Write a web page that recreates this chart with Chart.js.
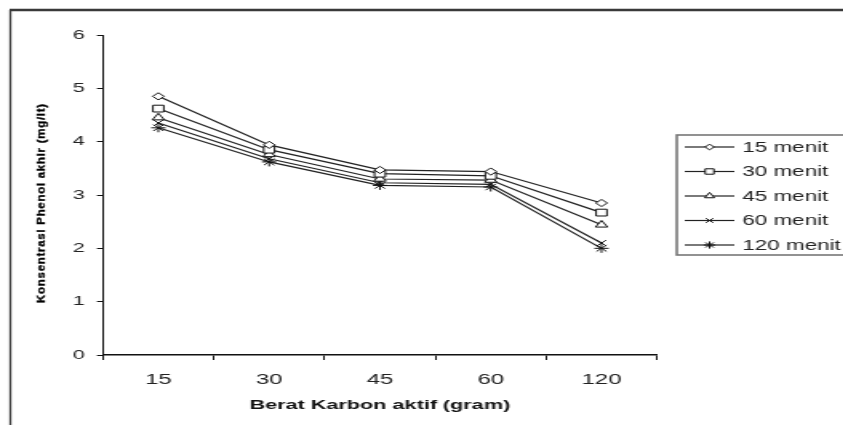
<!DOCTYPE html>
<html>
<head>
<meta charset="utf-8">
<script src="https://cdn.jsdelivr.net/npm/chart.js@4/dist/chart.umd.min.js"></script>
<style>
  html, body { margin: 0; padding: 0; background: #fff; overflow: hidden; }
  /* the source figure is stretched sideways, so draw narrow and widen it */
  #wrap { transform: scaleX(1.6); transform-origin: 0 0; width: 527px; height: 425px; }
  canvas { display: block; }
</style>
</head>
<body>
<div id="wrap"><canvas id="phenolChart" width="527" height="425"></canvas></div>
<script>
// data
const beratKarbon = ["15", "30", "45", "60", "120"];
const seriesNames = ["15 menit", "30 menit", "45 menit", "60 menit", "120 menit"];
const menit15 = [4.85, 3.94, 3.47, 3.44, 2.85];
const menit30 = [4.62, 3.85, 3.40, 3.36, 2.67];
const menit45 = [4.45, 3.76, 3.30, 3.28, 2.44];
const menit60 = [4.35, 3.68, 3.23, 3.20, 2.10];
const menit120 = [4.26, 3.62, 3.18, 3.15, 2.00];
const yTicks = [0, 1, 2, 3, 4, 5, 6];
const yTitle = "Konsentrasi Phenol akhir (mg/lt)";

const STRETCH = 1.6;
const FONT = "'Liberation Sans', Arial, sans-serif";

const markers = ["rectRot", "rect", "triangle", "crossRot", "star"];
const markerSize = [3.6, 4.8, 4.4, 4, 4.5];
const allSeries = [menit15, menit30, menit45, menit60, menit120];

const datasets = allSeries.map((values, i) => ({
  label: seriesNames[i],
  data: values,
  borderColor: "#222",
  borderWidth: 1.2,
  pointStyle: markers[i],
  pointRadius: markerSize[i],
  pointHoverRadius: markerSize[i],
  pointBorderColor: "#111",
  pointBorderWidth: 1,
  pointBackgroundColor: "#fff",
  fill: false,
  tension: 0,
}));

// outer frame (top + left edge of the pasted figure)
const framePlugin = {
  id: "frame",
  beforeDraw(chart) {
    const { ctx } = chart;
    ctx.save();
    ctx.strokeStyle = "#3a3a3a";
    ctx.lineWidth = 2.5;
    ctx.beginPath();
    ctx.moveTo(6, 10);
    ctx.lineTo(530, 10);
    ctx.stroke();
    ctx.lineWidth = 1.3;
    ctx.beginPath();
    ctx.moveTo(6.5, 10);
    ctx.lineTo(6.5, 425);
    ctx.stroke();
    ctx.restore();
  },
};

// y title drawn un-stretched so it stays a narrow, heavy column like the source
const yTitlePlugin = {
  id: "yTitle",
  afterDraw(chart) {
    const { ctx, chartArea } = chart;
    ctx.save();
    ctx.translate(42 / STRETCH, (chartArea.top + chartArea.bottom) / 2 + 8);
    ctx.scale(1 / STRETCH, 1);
    ctx.rotate(-Math.PI / 2);
    ctx.scale(0.95, 1);
    ctx.font = "bold 12px " + FONT;
    ctx.letterSpacing = "0.8px";
    ctx.fillStyle = "#000";
    ctx.strokeStyle = "#000";
    ctx.lineWidth = 0.4;
    ctx.textAlign = "center";
    ctx.textBaseline = "middle";
    ctx.fillText(yTitle, 0, 0);
    ctx.strokeText(yTitle, 0, 0);
    ctx.restore();
  },
};

// boxed legend with line + marker samples
const legendPlugin = {
  id: "boxLegend",
  afterDraw(chart) {
    const { ctx } = chart;
    ctx.save();
    ctx.strokeStyle = "#777";
    ctx.lineWidth = 1.6;
    ctx.strokeRect(423, 135, 120, 120);
    ctx.font = "14px " + FONT;
    ctx.textBaseline = "middle";
    ctx.textAlign = "left";
    chart.data.datasets.forEach((ds, i) => {
      const y = 147 + i * 24.5;
      ctx.strokeStyle = "#222";
      ctx.lineWidth = 1.2;
      ctx.beginPath();
      ctx.moveTo(428, y);
      ctx.lineTo(459, y);
      ctx.stroke();
      ctx.fillStyle = "#fff";
      ctx.strokeStyle = "#111";
      ctx.lineWidth = 1;
      Chart.helpers.drawPoint(
        ctx,
        { pointStyle: ds.pointStyle, radius: ds.pointRadius * 0.8, borderWidth: 1, rotation: 0 },
        443.5,
        y
      );
      ctx.fillStyle = "#222";
      ctx.fillText(ds.label, 464, y + 1);
    });
    ctx.restore();
  },
};

const ctx = document.getElementById("phenolChart").getContext("2d");
new Chart(ctx, {
  type: "line",
  data: { labels: beratKarbon, datasets },
  options: {
    responsive: false,
    animation: false,
    layout: { padding: { left: 0, top: 35, right: 116.4, bottom: 0 } },
    plugins: {
      legend: { display: false },
      tooltip: { enabled: false },
    },
    scales: {
      x: {
        offset: true,
        grid: {
          offset: true,
          drawOnChartArea: false,
          drawTicks: true,
          tickLength: 5,
          color: "#111",
          lineWidth: 1,
        },
        border: { display: true, color: "#111", width: 1.5 },
        ticks: {
          padding: 11,
          color: "#222",
          font: { family: FONT, size: 15 },
        },
        title: {
          display: true,
          text: "Berat Karbon aktif (gram)",
          color: "#111",
          font: { family: FONT, size: 13.5, weight: "bold" },
          padding: { top: 4, bottom: 12 },
        },
        afterFit(scale) {
          scale.height = 70;
        },
      },
      y: {
        min: 0,
        max: 6,
        afterBuildTicks(scale) {
          scale.ticks = yTicks.map((v) => ({ value: v }));
        },
        grid: {
          drawOnChartArea: false,
          drawTicks: true,
          tickLength: 3.75,
          color: "#111",
        },
        border: { display: true, color: "#111", width: 1 },
        ticks: {
          padding: 7.5,
          color: "#222",
          font: { family: FONT, size: 13.5 },
        },
        title: { display: false },
        afterFit(scale) {
          scale.width = 103 / STRETCH;
        },
      },
    },
  },
  plugins: [framePlugin, yTitlePlugin, legendPlugin],
});
</script>
</body>
</html>
